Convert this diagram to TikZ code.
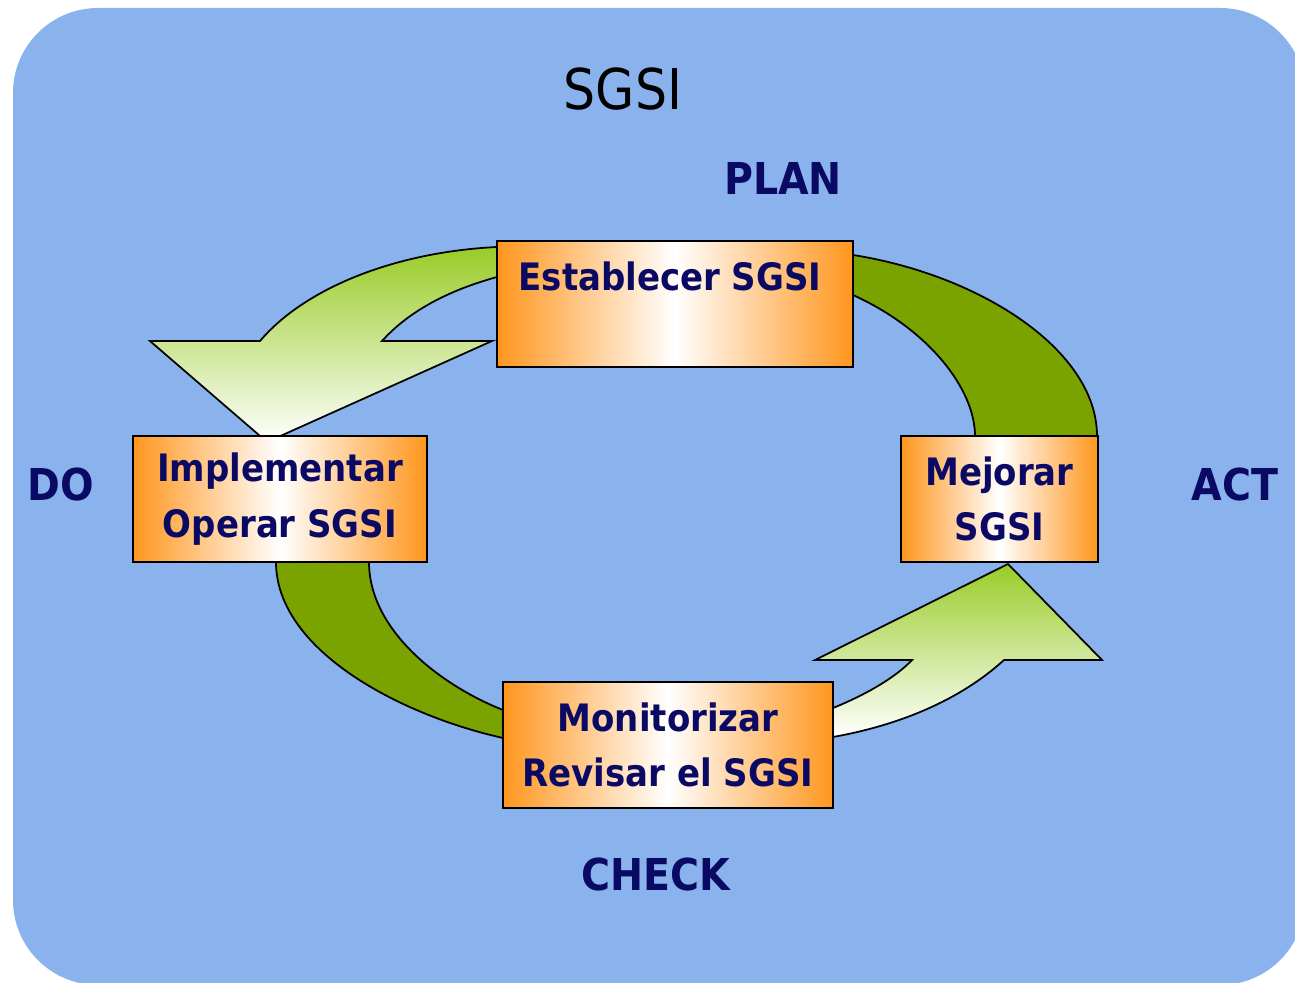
\documentclass[tikz,border=0pt]{standalone}
\usepackage{fontspec}
\setmainfont{DejaVu Sans Condensed}
\definecolor{bgblue}{RGB}{138,179,237}
\definecolor{boxorange}{RGB}{255,150,30}
\definecolor{bandgreen}{RGB}{122,163,0}
\definecolor{arrowgreen}{RGB}{153,204,40}
\definecolor{sgsinavy}{RGB}{10,10,100}

\begin{document}
\begin{tikzpicture}[x=0.02cm,y=-0.02cm,
        box/.style={draw=black,line width=1pt,inner sep=0pt,minimum height=2.52cm,
          left color=boxorange,right color=boxorange,middle color=white,
          align=center,text=sgsinavy,font=\bfseries\fontsize{21.5}{31.75}\selectfont},
        phase/.style={anchor=base,text=sgsinavy,font=\bfseries\fontsize{25}{30}\selectfont},
        band/.style={draw=black,line width=1pt,fill=bandgreen},
        bigarrow/.style={draw=black,line width=1pt,top color=arrowgreen,bottom color=white}]
        \useasboundingbox (0,0) rectangle (1295,983);
        \fill[bgblue,rounded corners=1.7cm] (13,8) rectangle (1305,985);

        % arrows between the boxes
        \draw[bigarrow] (497,247) .. controls (395,252) and (305,288) .. (260,341) -- (150,341)
          -- (267,442) -- (492,341) -- (382,341) .. controls (410,310) and (450,290) .. (497,277) -- cycle;
        \draw[band] (853,255) .. controls (980,275) and (1097,350) .. (1097,436) -- (975,436)
          .. controls (975,390) and (930,330) .. (853,295) -- cycle;
        \draw[band] (276,562) .. controls (276,650) and (400,715) .. (503,738) -- (503,710)
          .. controls (440,685) and (369,630) .. (369,562) -- cycle;
        \draw[bigarrow] (833,708) .. controls (865,695) and (895,678) .. (912,660) -- (815,660)
          -- (1008,564) -- (1102,660) -- (1004,660) .. controls (960,700) and (900,725) .. (833,737) -- cycle;

        \node[box,minimum width=7.12cm] (plan) at (675,304) {Establecer SGSI\hspace*{0.2cm}\\\mbox{}};
        \node[box,minimum width=5.88cm] (do) at (280,499) {Implementar\\Operar SGSI};
        \node[box,minimum width=3.94cm] (act) at (999.5,499) {Mejorar\\SGSI};
        \node[box,minimum width=6.6cm] (check) at (668,745) {Monitorizar\\Revisar el SGSI};

        \node[anchor=base,font=\fontsize{32}{38}\selectfont] (title) at (623,110) {SGSI};
        \node[phase] (planlbl) at (783,195) {PLAN};
        \node[phase] (dolbl) at (61,500) {DO};
        \node[phase] (actlbl) at (1235,500) {ACT};
        \node[phase] (checklbl) at (656,890) {CHECK};
\end{tikzpicture}
\end{document}
